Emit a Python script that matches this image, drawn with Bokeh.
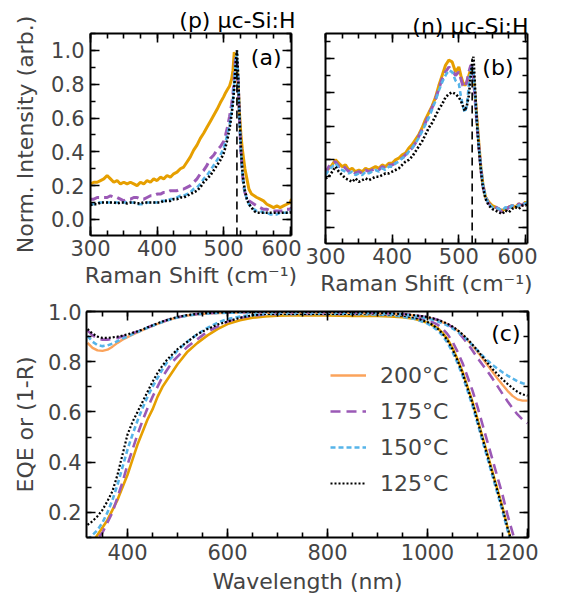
from bokeh.plotting import figure
from bokeh.models import (Range1d, LinearAxis, Label, Legend, LegendItem, FixedTicker,
                          NumeralTickFormatter, CustomLabelingPolicy)
from bokeh.layouts import column, row
from bokeh.embed import file_html
from bokeh.resources import INLINE

FONT = "DejaVu Sans"
ORANGE = "#E69F00"
ORANGE_R = "#FBA35B"
PURPLE = "#9B59B6"
BLUE = "#56B4E9"
BLACK = "#000000"

# ---------------- panel (a): p-type uc-Si:H Raman ----------------
raman_x_a = [300, 305, 310, 315, 320, 325, 330, 335, 340, 345,
             350, 355, 360, 365, 370, 375, 380, 385, 390, 395,
             400, 405, 410, 415, 420, 425, 430, 435, 440, 445,
             450, 455, 460, 465, 470, 475, 480, 485, 490, 495,
             500, 503, 506, 509, 512, 514, 516, 518, 520, 522,
             524, 526, 528, 530, 532, 535, 538, 542, 546, 550,
             555, 560, 565, 570, 575, 580, 585, 590, 595, 600, 602]
raman_a_200 = [.21, .22, .22, .23, .24, .26, .24, .22, .23, .21,
               .22, .21, .22, .21, .20, .22, .21, .23, .22, .24,
               .23, .25, .24, .26, .25, .27, .28, .30, .31, .34,
               .37, .41, .44, .48, .51, .545, .58, .615, .65, .69,
               .725, .75, .77, .79, .83, .88, .99, .95, .88, .78,
               .62, .50, .42, .36, .30, .24, .18, .15, .14, .13,
               .12, .11, .09, .08, .07, .08, .07, .08, .09, .10, .12]
raman_a_175 = [.12, .12, .13, .13, .13, .13, .14, .13, .13, .12,
               .11, .12, .12, .13, .13, .12, .12, .13, .14, .14,
               .15, .15, .16, .16, .17, .17, .17, .18, .18, .19,
               .20, .22, .24, .27, .29, .32, .36, .38, .41, .43,
               .46, .50, .55, .61, .68, .74, .84, .96, .95, .80,
               .58, .40, .28, .20, .16, .13, .11, .10, .09, .08,
               .07, .06, .06, .05, .05, .05, .05, .05, .06, .06, .07]
raman_a_150 = [.09, .09, .10, .10, .10, .10, .10, .10, .10, .10,
               .10, .10, .10, .10, .09, .09, .09, .10, .10, .10,
               .10, .11, .11, .11, .12, .12, .13, .14, .14, .15,
               .16, .18, .19, .21, .24, .26, .29, .32, .35, .38,
               .42, .46, .51, .56, .64, .71, .81, .93, .99, .82,
               .58, .40, .28, .21, .16, .12, .09, .07, .06, .05,
               .05, .04, .04, .03, .03, .03, .04, .04, .04, .05, .06]
raman_a_125 = [.085, .09, .09, .10, .10, .10, .10, .10, .095, .10,
               .10, .095, .10, .10, .095, .095, .10, .10, .10, .10,
               .10, .10, .11, .11, .11, .12, .12, .13, .13, .14,
               .15, .16, .17, .19, .22, .24, .26, .29, .32, .35,
               .39, .43, .48, .54, .62, .69, .78, .91, 1.00, .84,
               .60, .42, .30, .22, .17, .12, .09, .07, .05, .04,
               .04, .04, .04, .04, .04, .04, .04, .04, .04, .04, .05]

# ---------------- panel (b): n-type uc-Si:H Raman ----------------
raman_x_b = [300, 305, 310, 315, 320, 325, 330, 335, 340, 345,
             350, 355, 360, 365, 370, 375, 380, 385, 390, 395,
             400, 405, 410, 415, 420, 425, 430, 435, 440, 445,
             450, 455, 460, 465, 470, 475, 480, 485, 490, 495,
             500, 503, 506, 509, 512, 515, 518, 520, 522, 524,
             526, 528, 530, 533, 536, 540, 545, 550, 555, 560,
             565, 570, 575, 580, 585, 590, 595, 600, 603]
raman_b_200 = [.33, .35, .37, .40, .38, .36, .37, .34, .35, .33,
               .34, .33, .35, .34, .35, .36, .35, .37, .36, .38,
               .38, .40, .41, .43, .44, .47, .49, .52, .55, .59,
               .64, .68, .72, .77, .84, .90, .96, .99, .98, .92,
               .95, .90, .86, .84, .86, .90, .94, .93, .90, .80,
               .70, .60, .50, .36, .26, .18, .15, .13, .12, .11,
               .10, .11, .12, .13, .12, .14, .13, .15, .14]
raman_b_175 = [.32, .36, .38, .39, .36, .37, .35, .33, .34, .32,
               .33, .32, .34, .33, .34, .35, .34, .36, .35, .37,
               .37, .38, .40, .41, .43, .45, .47, .50, .54, .58,
               .62, .67, .71, .76, .82, .88, .92, .95, .93, .90,
               .92, .88, .84, .83, .86, .92, .96, .95, .88, .78,
               .67, .57, .48, .35, .25, .18, .14, .13, .12, .11,
               .09, .10, .12, .13, .12, .14, .13, .15, .13]
raman_b_150 = [.31, .34, .36, .38, .35, .34, .33, .32, .33, .31,
               .32, .31, .33, .32, .33, .34, .33, .35, .34, .36,
               .36, .38, .39, .41, .42, .45, .47, .50, .53, .57,
               .61, .65, .70, .75, .81, .86, .90, .93, .92, .87,
               .85, .78, .72, .68, .72, .84, .93, .95, .92, .80,
               .68, .58, .48, .36, .26, .18, .14, .12, .12, .11,
               .10, .12, .11, .13, .12, .13, .14, .14, .15]
raman_b_125 = [.29, .30, .33, .36, .33, .31, .29, .28, .27, .29,
               .27, .28, .29, .28, .29, .30, .30, .31, .32, .32,
               .33, .34, .35, .37, .39, .40, .42, .45, .48, .51,
               .55, .59, .62, .66, .70, .73, .77, .79, .80, .79,
               .77, .75, .72, .69, .72, .78, .90, .98, 1.01, .85,
               .70, .57, .47, .34, .24, .17, .13, .11, .10, .09,
               .08, .10, .09, .11, .12, .11, .13, .13, .14]

c_si_peak = 520          # crystalline Si TO phonon (cm^-1)
c_si_mark_top = 1.0

# ---------------- panel (c): EQE and (1-R) ----------------
wavelength = [320, 330, 340, 350, 360, 370, 380, 390, 400, 410,
              420, 430, 440, 450, 460, 470, 480, 490, 500, 520,
              540, 560, 580, 600, 625, 650, 675, 700, 750, 800,
              850, 900, 925, 950, 975, 1000, 1010, 1020, 1030, 1040,
              1050, 1060, 1070, 1080, 1090, 1100, 1110, 1120, 1130, 1140,
              1150, 1160, 1170, 1180, 1190, 1200]
eqe_200 = [.04, .08, .11, .14, .17, .21, .25, .30, .35, .41,
           .47, .52, .57, .61, .66, .70, .73, .76, .79, .84,
           .875, .905, .93, .95, .965, .975, .98, .983, .985, .984,
           .982, .982, .98, .977, .97, .955, .945, .935, .915, .89,
           .855, .81, .76, .70, .64, .57, .50, .43, .36, .29,
           .22, .14, .07, .02, 0.0, 0.0]
eqe_175 = [.06, .08, .095, .12, .16, .20, .26, .32, .39, .45,
           .51, .565, .615, .66, .70, .74, .77, .80, .82, .86,
           .89, .92, .94, .96, .975, .983, .988, .99, .99, .99,
           .99, .99, .988, .985, .978, .965, .958, .948, .932, .91,
           .88, .84, .795, .74, .685, .62, .55, .48, .41, .34,
           .27, .19, .12, .05, 0.0, 0.0]
eqe_150 = [.09, .11, .13, .16, .20, .25, .31, .38, .45, .51,
           .565, .615, .66, .70, .735, .77, .80, .82, .845, .88,
           .91, .935, .955, .97, .98, .986, .99, .99, .99, .99,
           .99, .988, .985, .98, .97, .952, .94, .925, .905, .875,
           .84, .795, .745, .685, .625, .555, .485, .415, .345, .275,
           .205, .13, .06, .01, 0.0, 0.0]
eqe_125 = [.15, .165, .185, .21, .245, .285, .35, .43, .51, .56,
           .60, .64, .68, .72, .755, .785, .81, .83, .85, .88,
           .91, .93, .948, .96, .975, .985, .99, .99, .99, .99,
           .99, .99, .988, .984, .975, .958, .947, .932, .912, .885,
           .85, .805, .755, .695, .635, .565, .495, .425, .355, .285,
           .215, .14, .07, .02, 0.0, 0.0]
oneR_200 = [.875, .855, .845, .843, .848, .86, .875, .888, .898, .908,
            .917, .926, .935, .943, .951, .958, .965, .971, .976, .984,
            .989, .992, .994, .995, .996, .996, .996, .996, .996, .996,
            .995, .993, .991, .988, .983, .975, .971, .965, .958, .949,
            .938, .924, .907, .887, .864, .84, .814, .787, .76, .733,
            .708, .684, .664, .65, .645, .645]
oneR_175 = [.925, .905, .893, .888, .888, .891, .895, .90, .906, .913,
            .92, .928, .936, .944, .952, .959, .966, .972, .977, .985,
            .99, .993, .995, .996, .997, .997, .997, .997, .997, .997,
            .996, .994, .992, .99, .985, .977, .973, .967, .96, .95,
            .937, .92, .898, .873, .845, .815, .788, .762, .733, .703,
            .672, .643, .615, .59, .57, .555]
oneR_150 = [.903, .88, .866, .862, .865, .872, .882, .892, .90, .91,
            .918, .927, .935, .943, .951, .958, .965, .971, .976, .984,
            .989, .992, .994, .995, .996, .996, .996, .996, .996, .996,
            .995, .993, .991, .988, .982, .972, .967, .961, .953, .944,
            .933, .92, .904, .886, .866, .845, .824, .805, .787, .772,
            .758, .745, .733, .722, .714, .71]
oneR_125 = [.93, .912, .90, .895, .895, .897, .90, .904, .909, .915,
            .921, .929, .937, .945, .953, .96, .967, .973, .978, .986,
            .991, .994, .996, .997, .998, .998, .998, .998, .998, .998,
            .997, .995, .993, .99, .985, .978, .973, .967, .96, .951,
            .94, .926, .909, .89, .868, .845, .82, .795, .771, .75,
            .73, .712, .695, .68, .67, .665]

series_labels = ["200°C", "175°C", "150°C", "125°C"]

raman_x_major = [300, 400, 500, 600]
raman_x_minor = [300 + 25 * i for i in range(13)]
raman_y_major = [0.0, 0.2, 0.4, 0.6, 0.8, 1.0]
raman_y_minor = [round(0.1 * i, 1) for i in range(12)]
wl_major = [400, 600, 800, 1000, 1200]
wl_minor = [350 + 50 * i for i in range(18)]
eqe_y_major = [0.2, 0.4, 0.6, 0.8, 1.0]
eqe_y_minor = [round(0.1 * i, 1) for i in range(1, 11)]


def style_axis(ax, major, minor, show_labels, fmt=None, label=None,
               lab_standoff=5, axlab_standoff=3):
    ax.ticker = FixedTicker(ticks=major, minor_ticks=minor)
    ax.major_tick_in = 9
    ax.major_tick_out = 0
    ax.minor_tick_in = 5
    ax.minor_tick_out = 0
    ax.axis_line_width = 2
    ax.major_tick_line_width = 1.6
    ax.minor_tick_line_width = 1.6
    ax.major_label_text_font = FONT
    ax.axis_label_text_font = FONT
    ax.axis_label_text_font_size = "22px"
    ax.axis_label_text_font_style = "normal"
    ax.axis_label_standoff = axlab_standoff
    if label is not None:
        ax.axis_label = label
    if fmt is not None:
        ax.formatter = NumeralTickFormatter(format=fmt)
    if show_labels:
        ax.major_label_text_font_size = "21px"
        ax.major_label_standoff = lab_standoff
    else:
        ax.major_label_text_font_size = "0px"
        ax.major_label_policy = CustomLabelingPolicy(code="return new Set()")
        ax.major_label_standoff = 0


def make_fig(fw, fh, xr, yr, bl, br, bt, bb, xmaj, xmin, ymaj, ymin,
             xlabel, ylabel, ylabels=True, yfmt=None,
             x_std=(5, 3), y_std=(5, 3)):
    p = figure(frame_width=fw, frame_height=fh, x_range=Range1d(*xr), y_range=Range1d(*yr),
               x_axis_type=None, y_axis_type=None,
               min_border_left=bl, min_border_right=br, min_border_top=bt, min_border_bottom=bb,
               output_backend="svg", toolbar_location=None)
    bottom = LinearAxis()
    style_axis(bottom, xmaj, xmin, True, None, xlabel, *x_std)
    p.add_layout(bottom, "below")
    left = LinearAxis()
    style_axis(left, ymaj, ymin, ylabels, yfmt, ylabel, *y_std)
    p.add_layout(left, "left")
    top = LinearAxis()
    style_axis(top, xmaj, xmin, False)
    p.add_layout(top, "above")
    right = LinearAxis()
    style_axis(right, ymaj, ymin, False)
    p.add_layout(right, "right")
    p.xgrid.visible = False
    p.ygrid.visible = False
    p.outline_line_color = None
    p.background_fill_color = "white"
    p.border_fill_color = "white"
    return p


def corner_label(p, text, xo, yo):
    p.add_layout(Label(x=p.x_range.end, y=p.y_range.end, x_offset=xo, y_offset=yo,
                       text=text, text_align="right", text_baseline="top",
                       text_font=FONT, text_font_size="22px", text_color="black"))


def set_title(p, text, offset, standoff):
    p.title.text = text
    p.title.align = "right"
    p.title.offset = offset
    p.title.standoff = standoff
    p.title.text_font = FONT
    p.title.text_font_size = "22px"
    p.title.text_font_style = "normal"
    p.title.text_color = "black"


def raman_lines(p, x, s200, s175, s150, s125):
    p.line(x, s200, line_color=ORANGE, line_width=3)
    p.line(x, s175, line_color=PURPLE, line_width=3, line_dash="9 5")
    p.line(x, s150, line_color=BLUE, line_width=2.6, line_dash="5 3")
    p.line(x, s125, line_color=BLACK, line_width=2.6, line_dash="2 2")
    p.segment(x0=[c_si_peak], y0=[p.y_range.start], x1=[c_si_peak], y1=[c_si_mark_top],
              line_color="black", line_width=1.6, line_dash="8 5")


# ---- (a)
pa = make_fig(201, 202, (300, 602), (-0.095, 1.10), 90, 10, 33, 64,
              raman_x_major, raman_x_minor, raman_y_major, raman_y_minor,
              "Raman Shift (cm⁻¹)", "Norm. Intensity (arb.)", True, "0.0",
              x_std=(4, 4), y_std=(6, 10))
raman_lines(pa, raman_x_a, raman_a_200, raman_a_175, raman_a_150, raman_a_125)
corner_label(pa, "(a)", -10, -11)
set_title(pa, "(p) μc-Si:H", -4, 2)

# ---- (b)
pb = make_fig(202, 210, (300, 603), (-0.095, 1.148), 24, 10, 25, 64,
              raman_x_major, raman_x_minor, raman_y_major, raman_y_minor,
              "Raman Shift (cm⁻¹)", None, False, x_std=(4, 4))
raman_lines(pb, raman_x_b, raman_b_200, raman_b_175, raman_b_150, raman_b_125)
corner_label(pb, "(b)", -14, -21)
set_title(pb, "(n) μc-Si:H", -1, -11)

# ---- (c)
pc = make_fig(442, 226, (318, 1202), (0.1, 1.0), 86, 10, 12, 62,
              wl_major, wl_minor, eqe_y_major, eqe_y_minor,
              "Wavelength (nm)", "EQE or (1-R)", True, "0.0",
              x_std=(6, 6), y_std=(5, 7))

pc.line(wavelength, eqe_200, line_color=ORANGE, line_width=2.6)
pc.line(wavelength, eqe_175, line_color=PURPLE, line_width=2.6, line_dash="10 6")
pc.line(wavelength, eqe_150, line_color=BLUE, line_width=2.6, line_dash="5 3")
pc.line(wavelength, eqe_125, line_color=BLACK, line_width=2.2, line_dash="2 2")
r1 = pc.line(wavelength, oneR_200, line_color=ORANGE_R, line_width=2.4)
r2 = pc.line(wavelength, oneR_175, line_color=PURPLE, line_width=2.6, line_dash="10 6")
r3 = pc.line(wavelength, oneR_150, line_color=BLUE, line_width=2.6, line_dash="5 3")
r4 = pc.line(wavelength, oneR_125, line_color=BLACK, line_width=2.2, line_dash="2 2")

legend = Legend(items=[LegendItem(label=lab, renderers=[r])
                       for lab, r in zip(series_labels, [r1, r2, r3, r4])],
                location=(244, 39), padding=0, margin=0, spacing=6,
                glyph_width=36, glyph_height=30, label_height=30, label_standoff=14,
                border_line_color=None, background_fill_alpha=0,
                label_text_font=FONT, label_text_font_size="22px")
pc.add_layout(legend)
corner_label(pc, "(c)", -8, -9)

layout = column(row(pa, pb), pc)
open("out.html", "w").write(file_html(layout, INLINE))
